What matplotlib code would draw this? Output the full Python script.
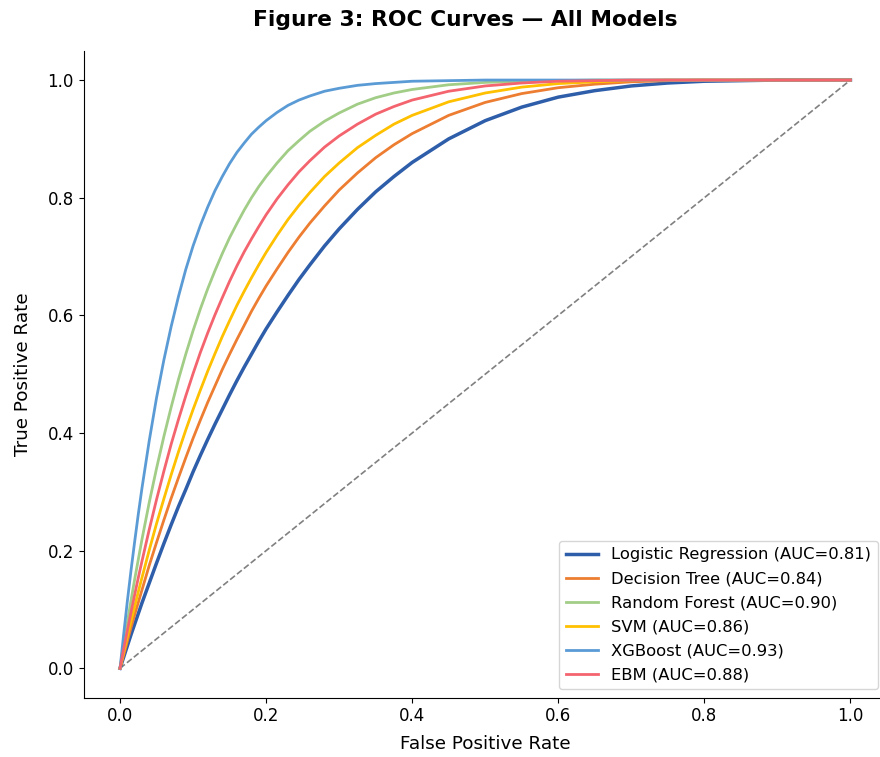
import matplotlib
matplotlib.use("Agg")
import matplotlib.pyplot as plt

# values
fpr = [0, .005, .01, .015, .02, .025, .03, .04, .05, .06, .07, .08, .09, .10, .11,
       .12, .13, .14, .15, .16, .17, .18, .19, .20, .215, .23, .245, .26, .28, .30,
       .325, .35, .375, .40, .45, .50, .55, .60, .65, .70, .75, .80, .85, .90, 1.0]

tpr_lr = [0, .019, .038, .057, .075, .093, .111, .145, .179, .212, .244, .275, .304, .334, .362,
          .389, .415, .440, .465, .489, .512, .534, .556, .577, .606, .634, .661, .686, .718, .747,
          .780, .810, .836, .860, .900, .931, .954, .971, .982, .990, .995, .998, .999, 1.0, 1.0]
tpr_dt = [0, .023, .046, .069, .091, .112, .133, .175, .214, .252, .289, .324, .358, .391, .422,
          .452, .480, .508, .534, .559, .583, .607, .629, .650, .679, .707, .733, .757, .786, .813,
          .842, .868, .890, .909, .940, .962, .977, .987, .993, .997, .999, 1.0, 1.0, 1.0, 1.0]
tpr_rf = [0, .040, .078, .115, .151, .185, .219, .282, .340, .394, .444, .491, .534, .574, .611,
          .645, .676, .705, .732, .756, .779, .800, .819, .836, .859, .880, .897, .913, .930, .944,
          .959, .970, .978, .984, .992, .996, .998, .999, 1.0, 1.0, 1.0, 1.0, 1.0, 1.0, 1.0]
tpr_svm = [0, .027, .054, .080, .105, .130, .154, .201, .246, .288, .329, .368, .405, .440, .473,
           .505, .535, .564, .591, .617, .641, .664, .686, .707, .736, .763, .787, .809, .836, .859,
           .885, .906, .925, .940, .963, .978, .988, .994, .997, .999, 1.0, 1.0, 1.0, 1.0, 1.0]
tpr_xgb = [0, .058, .114, .166, .215, .262, .306, .387, .460, .524, .581, .632, .678, .718, .753,
           .784, .812, .836, .858, .877, .893, .908, .920, .931, .945, .957, .966, .973, .981, .986,
           .991, .994, .996, .998, .999, 1.0, 1.0, 1.0, 1.0, 1.0, 1.0, 1.0, 1.0, 1.0, 1.0]
tpr_ebm = [0, .033, .064, .095, .125, .154, .182, .236, .287, .335, .381, .423, .463, .501, .537,
           .570, .601, .630, .658, .684, .708, .730, .751, .771, .798, .822, .844, .863, .886, .905,
           .925, .942, .955, .966, .981, .990, .995, .998, .999, 1.0, 1.0, 1.0, 1.0, 1.0, 1.0]

models = ["Logistic Regression", "Decision Tree", "Random Forest", "SVM", "XGBoost", "EBM"]
aucs = [0.81, 0.84, 0.90, 0.86, 0.93, 0.88]
curves = [tpr_lr, tpr_dt, tpr_rf, tpr_svm, tpr_xgb, tpr_ebm]
colors = ["#2e5eaa", "#ed7d31", "#a2cd87", "#ffc000", "#5b9bd5", "#f4646e"]
widths = [2.5, 2, 2, 2, 2, 2]

fig = plt.figure(figsize=(8.8, 7.57), dpi=100)
ax = fig.add_axes([0.0949, 0.0783, 0.913, 0.8548])

ax.plot([0, 1], [0, 1], "--", color="gray", lw=1.2)
for name, auc, tpr, c, w in zip(models, aucs, curves, colors, widths):
    ax.plot(fpr, tpr, color=c, lw=w, label=f"{name} (AUC={auc:.2f})")

ax.set_xlim(-0.05, 1.05)
ax.set_ylim(-0.05, 1.05)
ax.spines["top"].set_visible(False)
ax.spines["right"].set_visible(False)
ax.tick_params(labelsize=12)
ax.set_xlabel("False Positive Rate", fontsize=13.2, labelpad=7)
ax.set_ylabel("True Positive Rate", fontsize=13.2, labelpad=11)

fig.text(465 / 880, 1 - 20 / 757, "Figure 3: ROC Curves \u2014 All Models",
         fontsize=15.7, fontweight="bold", ha="center", va="center")

ax.legend(loc="lower right", bbox_to_anchor=(878 / 880, 68 / 757),
          bbox_transform=fig.transFigure, borderaxespad=0, fontsize=11.8,
          labelspacing=0.55)

fig.savefig("out.png", dpi=100)
